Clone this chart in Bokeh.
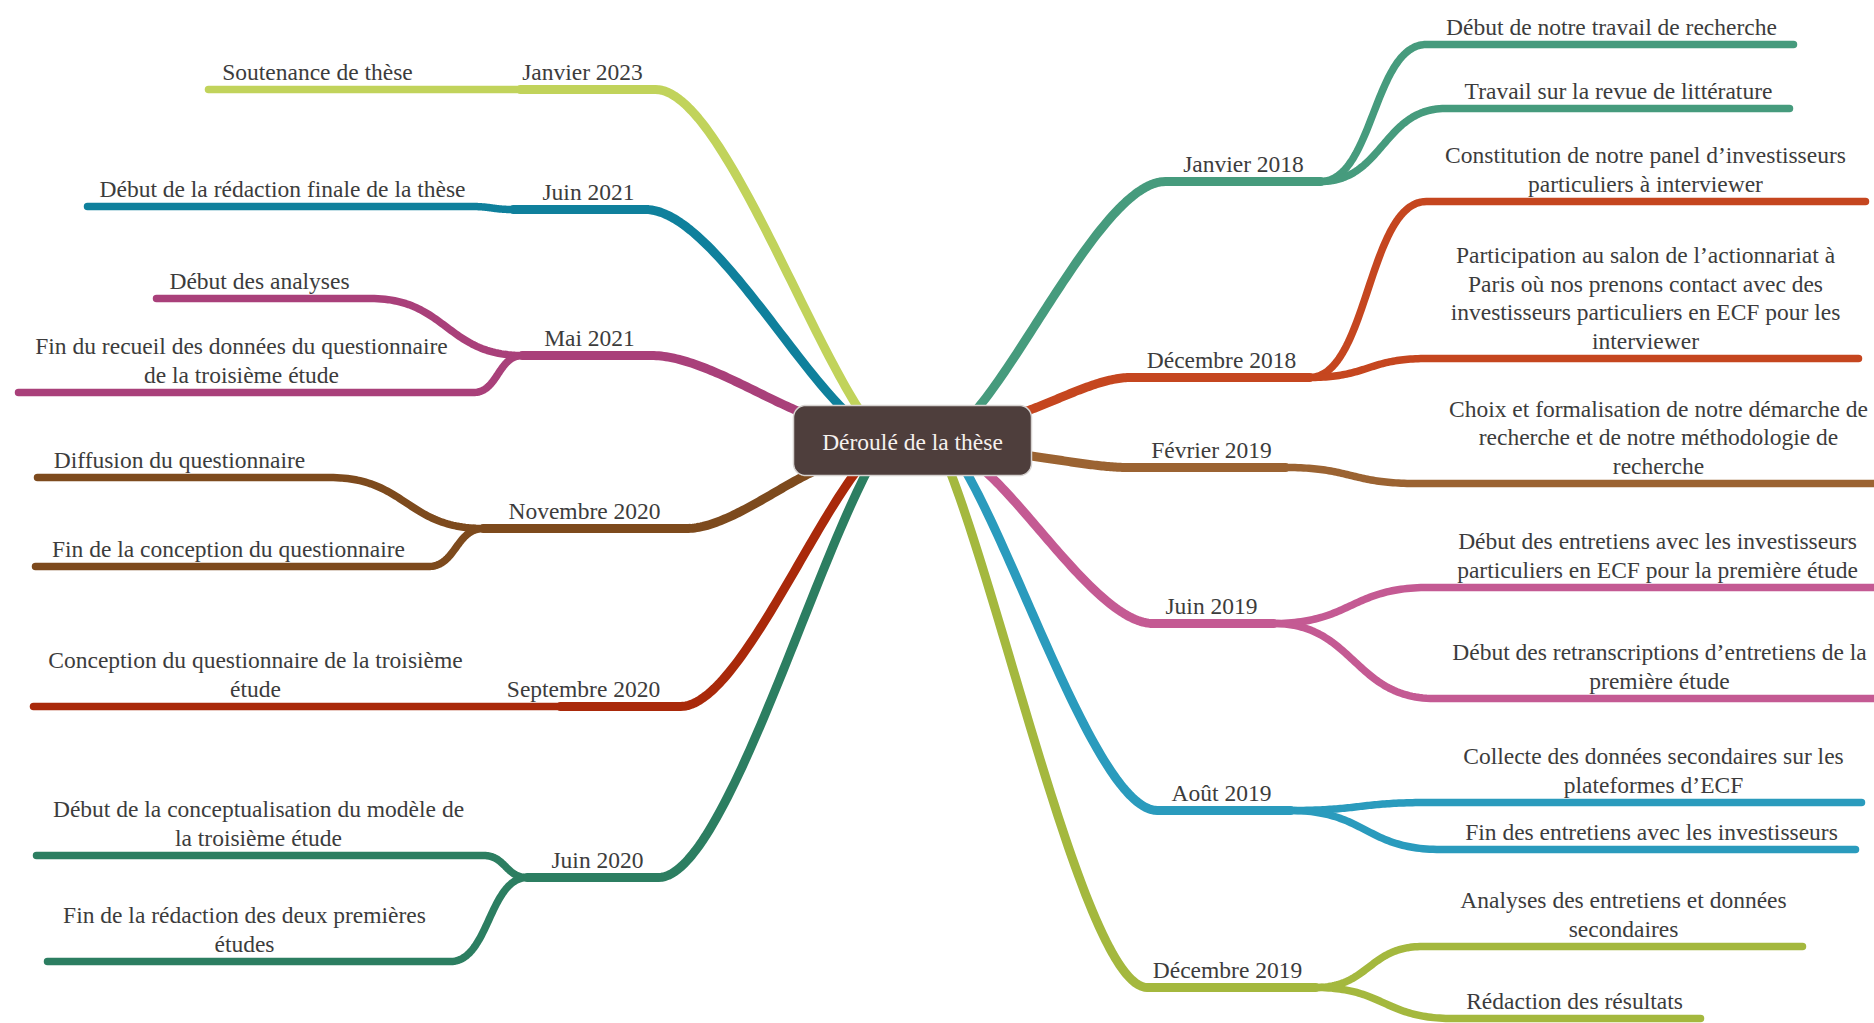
import numpy as np
from bokeh.plotting import figure
from bokeh.models import Range1d
from bokeh.core.properties import value
from bokeh.embed import file_html
from bokeh.resources import INLINE

# ---------------- data (mind-map content) ----------------
central_topic = "Déroulé de la thèse"

branch_dates = ["Janvier 2018", "Décembre 2018", "Février 2019", "Juin 2019", "Août 2019",
                "Décembre 2019", "Janvier 2023", "Juin 2021", "Mai 2021", "Novembre 2020",
                "Septembre 2020", "Juin 2020"]

events_jan2018 = [["Début de notre travail de recherche"],
                  ["Travail sur la revue de littérature"]]
events_dec2018 = [["Constitution de notre panel d’investisseurs", "particuliers à interviewer"],
                  ["Participation au salon de l’actionnariat à", "Paris où nos prenons contact avec des",
                   "investisseurs particuliers en ECF pour les", "interviewer"]]
events_fev2019 = [["Choix et formalisation de notre démarche de", "recherche et de notre méthodologie de",
                   "recherche"]]
events_jun2019 = [["Début des entretiens avec les investisseurs", "particuliers en ECF pour la première étude"],
                  ["Début des retranscriptions d’entretiens de la", "première étude"]]
events_aou2019 = [["Collecte des données secondaires sur les", "plateformes d’ECF"],
                  ["Fin des entretiens avec les investisseurs"]]
events_dec2019 = [["Analyses des entretiens et données", "secondaires"],
                  ["Rédaction des résultats"]]
events_jan2023 = [["Soutenance de thèse"]]
events_jun2021 = [["Début de la rédaction finale de la thèse"]]
events_mai2021 = [["Début des analyses"],
                  ["Fin du recueil des données du questionnaire", "de la troisième étude"]]
events_nov2020 = [["Diffusion du questionnaire"],
                  ["Fin de la conception du questionnaire"]]
events_sep2020 = [["Conception du questionnaire de la troisième", "étude"]]
events_jun2020 = [["Début de la conceptualisation du modèle de", "la troisième étude"],
                  ["Fin de la rédaction des deux premières", "études"]]

branch_events = [events_jan2018, events_dec2018, events_fev2019, events_jun2019, events_aou2019,
                 events_dec2019, events_jan2023, events_jun2021, events_mai2021, events_nov2020,
                 events_sep2020, events_jun2020]

# ---------------- styles ----------------
branch_colors = ["#469b7d", "#c5461f", "#9b6332", "#c45a93", "#2a9bbd", "#a4b83e",
                 "#c1d35b", "#0f809c", "#a9407a", "#7d4a1d", "#a9290a", "#2c7e61"]
TEXT_COLOR = "#3c3c3c"
FONT = "Liberation Serif"
FSIZE = "23.5px"

# ---------------- layout (pixel positions) ----------------
box_l, box_r, box_t, box_b, box_rad = 793, 1031, 405, 475, 12
root_pts = [(977, 408), (1022, 412), (1026, 455), (986, 472), (966, 472), (950, 472),
            (858, 408), (842, 408), (806, 414), (815, 470), (855, 472), (866, 472)]
main_ends = [(1165, 181), (1130, 377), (1128, 467), (1153, 623), (1157, 810), (1147, 987),
             (655, 89), (645, 209), (651, 355), (686, 528), (680, 706), (658, 877)]
branch_x = [1320, 1309, 1285, 1273, 1290, 1315, 520, 513, 522, 483, 560, 527]
date_label_x = [1243, 1221, 1211, 1211, 1221, 1227, 582, 588, 589, 584, 583, 597]
# child curve ends (x, y, line end x, label centre x)
child_geo = [
    [(1426, 44, 1793, 1611), (1445, 108, 1789, 1618)],
    [(1426, 201, 1865, 1645), (1426, 358, 1858, 1645)],
    [(1416, 483, 1910, 1658)],
    [(1428, 587, 1910, 1657), (1434, 698, 1910, 1659)],
    [(1428, 802, 1861, 1653), (1440, 849, 1855, 1651)],
    [(1422, 946, 1802, 1623), (1452, 1018, 1700, 1574)],
    [(500, 89, 208, 317)],
    [(470, 206, 87, 282)],
    [(370, 298, 156, 259), (473, 392, 18, 241)],
    [(329, 477, 37, 179), (428, 566, 35, 228)],
    [(540, 706, 33, 255)],
    [(483, 855, 36, 258), (450, 961, 47, 244)],
]
LINE_GAP = 17.5
LINE_H = 28.7


def cubic(p0, p1, p2, p3, n=60):
    t = np.linspace(0, 1, n)[:, None]
    p0, p1, p2, p3 = map(np.asarray, (p0, p1, p2, p3))
    pts = (1 - t) ** 3 * p0 + 3 * (1 - t) ** 2 * t * p1 + 3 * (1 - t) * t ** 2 * p2 + t ** 3 * p3
    return list(pts[:, 0]), list(pts[:, 1])


W, H = 1874, 1023
p = figure(width=W, height=H, x_range=Range1d(0, W), y_range=Range1d(H, 0),
           output_backend="svg", toolbar_location=None, x_axis_type=None, y_axis_type=None,
           min_border=0, outline_line_color=None, background_fill_color="white",
           border_fill_color="white")
p.grid.visible = False

main_xs, main_ys, main_cols = [], [], []
child_xs, child_ys, child_cols = [], [], []
tx, ty, tt = [], [], []

for i, date in enumerate(branch_dates):
    col = branch_colors[i]
    (x0, y0), (x1, y1) = root_pts[i], main_ends[i]
    dx, dy = x1 - x0, y1 - y0
    cx, cy = cubic((x0, y0), (x0 + 0.3 * dx, y0 + 0.3 * dy), (x1 - 0.3 * dx, y1), (x1, y1))
    bx = branch_x[i]
    main_xs.append(cx + [bx]); main_ys.append(cy + [y1]); main_cols.append(col)
    tx.append(date_label_x[i]); ty.append(y1 - LINE_GAP); tt.append(date)
    for ev, (ex, ey, lx, labx) in zip(branch_events[i], child_geo[i]):
        ddx = ex - bx
        sx, sy = cubic((bx, y1), (bx + 0.5 * ddx, y1), (bx + 0.5 * ddx, ey), (ex, ey))
        child_xs.append(sx + [lx]); child_ys.append(sy + [ey]); child_cols.append(col)
        n = len(ev)
        for k, line in enumerate(ev):
            tx.append(labx); ty.append(ey - LINE_GAP - LINE_H * (n - 1 - k)); tt.append(line)

p.multi_line(child_xs, child_ys, line_color=child_cols, line_width=7.5,
             line_cap="round", line_join="round")
p.multi_line(main_xs, main_ys, line_color=main_cols, line_width=9,
             line_cap="round", line_join="round")

# central rounded box
r = box_rad
corners = [
    (box_r - r, box_t + r, -np.pi / 2, 0),
    (box_r - r, box_b - r, 0, np.pi / 2),
    (box_l + r, box_b - r, np.pi / 2, np.pi),
    (box_l + r, box_t + r, np.pi, 1.5 * np.pi),
]
px, py = [], []
for ccx, ccy, a0, a1 in corners:
    a = np.linspace(a0, a1, 12)
    px += list(ccx + r * np.cos(a)); py += list(ccy + r * np.sin(a))
p.patch(px, py, fill_color="#4e3e3c", line_color="#d6d2d0", line_width=1.5)
p.text(x=[(box_l + box_r) / 2], y=[(box_t + box_b) / 2 + 1], text=[central_topic],
       text_font=value(FONT), text_font_size=FSIZE, text_color="#f6f1ef",
       text_align="center", text_baseline="middle")

p.text(x=tx, y=ty, text=tt, text_font=value(FONT), text_font_size=FSIZE,
       text_color=TEXT_COLOR, text_align="center", text_baseline="alphabetic")

open("out.html", "w").write(file_html(p, INLINE))
